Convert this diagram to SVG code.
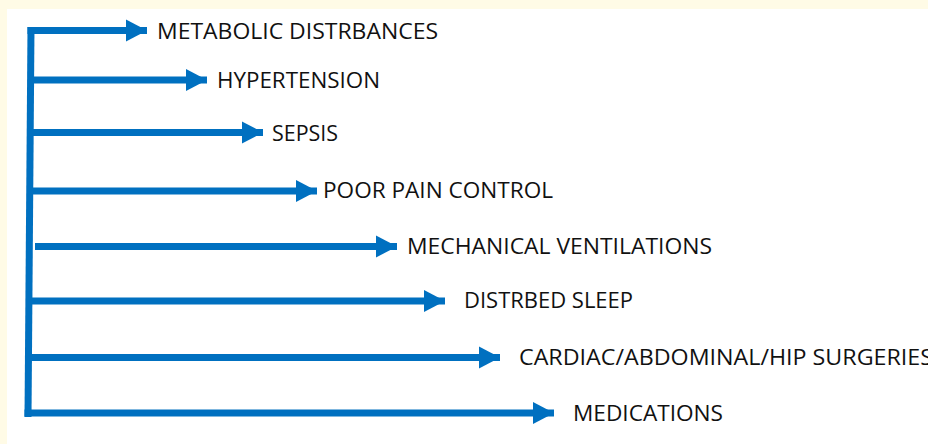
<svg xmlns="http://www.w3.org/2000/svg" width="928" height="444" viewBox="0 0 928 444">
<style>
.ln{stroke:#0070C0;stroke-width:7;fill:none}
.hd{fill:#0070C0}
.t{font-family:"Open Sans","Segoe UI","Liberation Sans",sans-serif;font-size:22px;fill:#111}
</style>
<defs>
<marker id="ah" markerUnits="userSpaceOnUse" markerWidth="22" markerHeight="24" refX="21" refY="11" orient="auto" viewBox="0 0 22 22">
<path class="hd" d="M0,0 L21,11 L0,22 Z"/>
</marker>
</defs>
<rect x="0" y="0" width="928" height="444" fill="#FFFBE6"/>
<rect x="7" y="9" width="921" height="435" fill="#FFFFFF"/>
<g id="connectors">
<path class="ln" d="M31,27 L28,417"/>
<path class="ln" d="M27.5,30.5 L147,30.5" marker-end="url(#ah)"/>
<path class="ln" d="M31,80 L207,80" marker-end="url(#ah)"/>
<path class="ln" d="M31,132.5 L263,132.5" marker-end="url(#ah)"/>
<path class="ln" d="M31,191 L317,191" marker-end="url(#ah)"/>
<path class="ln" d="M35,246.5 L397,246.5" marker-end="url(#ah)"/>
<path class="ln" d="M29,301 L445,301" marker-end="url(#ah)"/>
<path class="ln" d="M29,357.5 L500,357.5" marker-end="url(#ah)"/>
<path class="ln" d="M24.5,413 L554,413" marker-end="url(#ah)"/>
</g>
<g id="n1"><text class="t" x="157" y="38.5" textLength="281" lengthAdjust="spacingAndGlyphs">METABOLIC DISTRBANCES</text></g>
<g id="n2"><text class="t" x="217" y="88" textLength="163" lengthAdjust="spacingAndGlyphs">HYPERTENSION</text></g>
<g id="n3"><text class="t" x="272" y="140.5" textLength="66" lengthAdjust="spacingAndGlyphs">SEPSIS</text></g>
<g id="n4"><text class="t" x="323" y="198" textLength="230" lengthAdjust="spacingAndGlyphs">POOR PAIN CONTROL</text></g>
<g id="n5"><text class="t" x="407" y="254" textLength="305" lengthAdjust="spacingAndGlyphs">MECHANICAL VENTILATIONS</text></g>
<g id="n6"><text class="t" x="464" y="308" textLength="169" lengthAdjust="spacingAndGlyphs">DISTRBED SLEEP</text></g>
<g id="n7"><text class="t" x="519" y="365" textLength="414" lengthAdjust="spacingAndGlyphs">CARDIAC/ABDOMINAL/HIP SURGERIES</text></g>
<g id="n8"><text class="t" x="573" y="421" textLength="150" lengthAdjust="spacingAndGlyphs">MEDICATIONS</text></g>
</svg>
